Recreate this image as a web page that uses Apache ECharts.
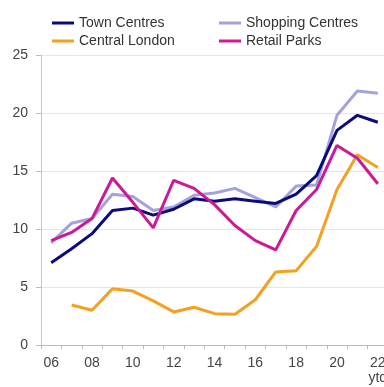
<!DOCTYPE html>
<html>
<head>
<meta charset="utf-8">
<script src="https://cdn.jsdelivr.net/npm/echarts@6/dist/echarts.min.js"></script>
<style>
  html, body { margin: 0; padding: 0; background: #fff; }
  #chart { width: 384px; height: 387px; }
</style>
</head>
<body>
<div id="chart"></div>
<script>
// Years on the category axis (last one is year-to-date)
const years = ['06','07','08','09','10','11','12','13','14','15','16','17','18','19','20','21','22\nytd'];

// Series values, one per year
const townCentres     = [7.1, 8.3, 9.6, 11.6, 11.8, 11.2, 11.7, 12.6, 12.4, 12.6, 12.4, 12.2, 13.0, 14.6, 18.5, 19.8, 19.2];
const shoppingCentres = [8.8, 10.5, 10.9, 13.0, 12.8, 11.6, 11.9, 12.9, 13.1, 13.5, 12.7, 11.9, 13.7, 13.8, 19.8, 21.9, 21.7];
const centralLondon   = [null, 3.45, 3.0, 4.85, 4.65, 3.8, 2.85, 3.25, 2.7, 2.65, 3.9, 6.3, 6.4, 8.5, 13.4, 16.4, 15.3];
const retailParks     = [9.0, 9.7, 10.9, 14.4, 12.3, 10.1, 14.2, 13.5, 12.1, 10.3, 9.0, 8.2, 11.6, 13.4, 17.2, 16.1, 13.9];

// Value-axis ticks
const yTicks = [0, 5, 10, 15, 20, 25];

const names  = ['Town Centres', 'Shopping Centres', 'Central London', 'Retail Parks'];
const values = [townCentres, shoppingCentres, centralLondon, retailParks];
const colors = ['#0b0b7e', '#a3a3da', '#f4a020', '#cc1a96'];

const font = 'Liberation Sans, Arial, sans-serif';

// One legend per entry so the two-column layout can be placed exactly
const legendSpots = [
  { left: 52,  top: 16 },
  { left: 219, top: 16 },
  { left: 52,  top: 34 },
  { left: 219, top: 34 }
];

const chart = echarts.init(document.getElementById('chart'), null, { renderer: 'canvas' });

chart.setOption({
  animation: false,
  backgroundColor: '#ffffff',
  legend: names.map((n, i) => ({
    data: [n],
    left: legendSpots[i].left,
    top: legendSpots[i].top,
    padding: 0,
    icon: 'rect',
    itemWidth: 22,
    itemHeight: 3,
    selectedMode: false,
    textStyle: { fontFamily: font, fontSize: 14, color: '#333333' }
  })),
  // the plot runs slightly past the right edge, so the last label is clipped
  grid: { left: 41, top: 55, width: 347, height: 290, containLabel: false, outerBoundsMode: 'none' },
  xAxis: {
    type: 'category',
    data: years,
    boundaryGap: true,
    axisLine: { lineStyle: { color: '#bdbdbd', width: 1 } },
    axisTick: { show: true, interval: 0, length: 4, lineStyle: { color: '#bdbdbd' } },
    axisLabel: {
      interval: 1,
      margin: 11,
      fontFamily: font,
      fontSize: 14,
      color: '#444444',
      lineHeight: 15,
      hideOverlap: false
    },
    splitLine: { show: false }
  },
  yAxis: {
    type: 'value',
    min: yTicks[0],
    max: yTicks[yTicks.length - 1],
    interval: 5,
    axisLine: { show: true, lineStyle: { color: '#c8c8c8', width: 1 } },
    axisTick: { show: true, length: 5, lineStyle: { color: '#bdbdbd' } },
    axisLabel: { margin: 13, fontFamily: font, fontSize: 14, color: '#444444' },
    splitLine: { show: true, lineStyle: { color: '#e6e6e6', width: 1 } }
  },
  series: names.map((n, i) => ({
    name: n,
    type: 'line',
    data: values[i],
    symbol: 'none',
    connectNulls: false,
    z: i === 1 ? 1 : 2 + i,
    lineStyle: { color: colors[i], width: 3 },
    itemStyle: { color: colors[i] }
  }))
});
</script>
</body>
</html>
